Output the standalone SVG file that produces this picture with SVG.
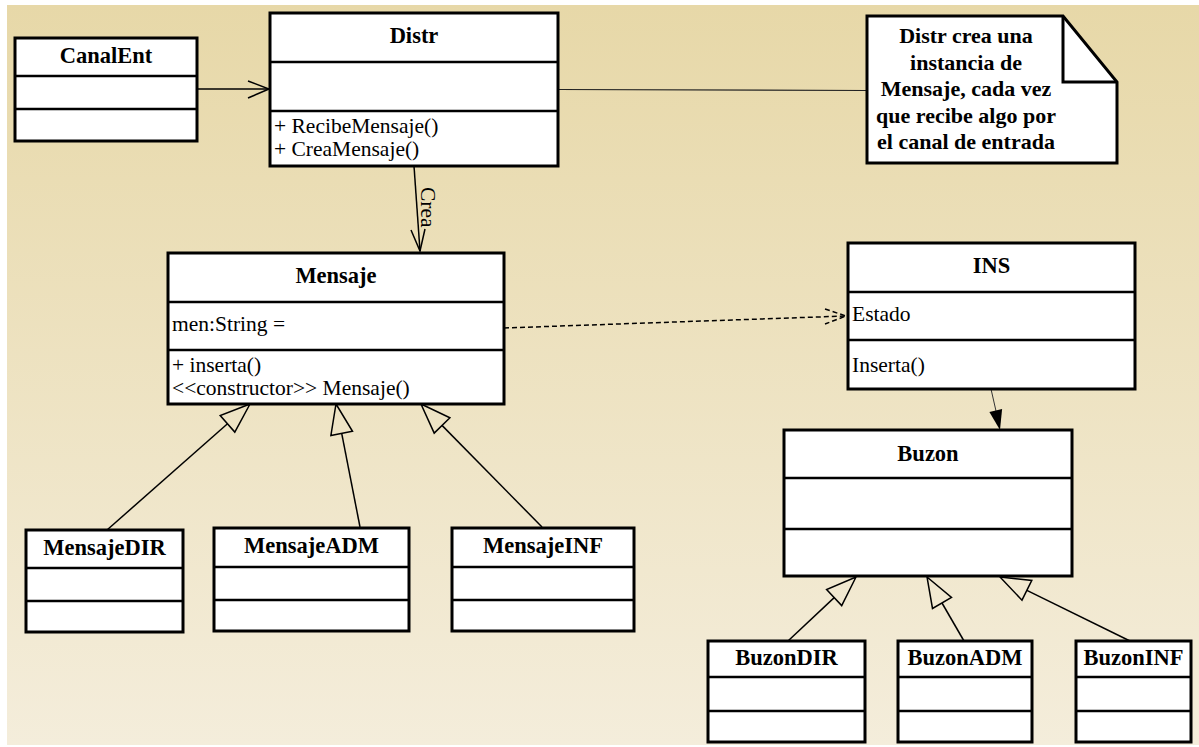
<svg xmlns="http://www.w3.org/2000/svg" width="1199" height="747" viewBox="0 0 1199 747">
<defs>
<linearGradient id="bg" x1="0" y1="0" x2="0" y2="1">
<stop offset="0" stop-color="#e7d8a8"/>
<stop offset="1" stop-color="#f4eddb"/>
</linearGradient>
</defs>
<style>
.box{fill:#fff;stroke:#000;stroke-width:3}
.div{stroke:#000;stroke-width:2.5}
.t{font-family:"Liberation Serif","Times New Roman",serif;font-weight:bold;font-size:22.5px;text-anchor:middle;fill:#000}
.a{font-family:"Liberation Serif","Times New Roman",serif;font-size:21.5px;fill:#000}
.n{font-family:"Liberation Serif","Times New Roman",serif;font-weight:bold;font-size:22px;text-anchor:middle;fill:#000}
.ln{stroke:#000;stroke-width:1.5;fill:none}
.dash{stroke:#000;stroke-width:1.5;fill:none;stroke-dasharray:5 3}
.gen{fill:none;stroke:#000;stroke-width:1.5;stroke-linejoin:miter}
</style>
<rect x="7" y="5" width="1192" height="740" fill="url(#bg)"/>

<g id="connectors">
<!-- CanalEnt -> Distr -->
<line class="ln" x1="197" y1="89" x2="269" y2="89"/>
<polyline class="ln" points="248,81 269,89 248,98"/>
<!-- Distr to note -->
<line x1="558" y1="89.5" x2="867" y2="90.5" stroke="#222" stroke-width="1.2"/>
<!-- Crea -->
<line class="ln" x1="414" y1="166" x2="420" y2="251"/>
<polyline class="ln" points="411,230 420,251 425,229"/>
<text class="a" transform="translate(421,187) rotate(90)">Crea</text>
<!-- Mensaje -> INS dependency -->
<line class="dash" x1="504" y1="328" x2="846" y2="316"/>
<polyline class="dash" points="825,309 846,316 825,324"/>
<!-- INS -> Buzon -->
<line x1="991" y1="389" x2="996" y2="411" stroke="#333" stroke-width="1"/>
<polygon points="1000,430 1002.1,409.1 989.4,411.9" fill="#000"/>
<!-- generalizations to Mensaje -->
<line class="ln" x1="107" y1="530" x2="227.5" y2="423.8"/>
<polygon class="gen" points="250,404 234.8,432.1 220.2,415.6"/>
<line class="ln" x1="360" y1="527" x2="341.7" y2="433.4"/>
<polygon class="gen" points="336,404 352.5,431.3 330.9,435.5"/>
<line class="ln" x1="542" y1="527" x2="442" y2="425.4"/>
<polygon class="gen" points="421,404 449.9,417.7 434.2,433.1"/>
<!-- generalizations to Buzon -->
<line class="ln" x1="788" y1="641" x2="834.2" y2="597.6"/>
<polygon class="gen" points="856,577 841.7,605.6 826.6,589.5"/>
<line class="ln" x1="964" y1="641" x2="942" y2="603"/>
<polygon class="gen" points="927,577 951.5,597.5 932.5,608.5"/>
<line class="ln" x1="1130" y1="641" x2="1026.9" y2="590.3"/>
<polygon class="gen" points="1000,577 1031.8,580.4 1022,600.2"/>
</g>

<g id="CanalEnt">
<rect class="box" x="15" y="38" width="182" height="103"/>
<line class="div" x1="15" y1="76" x2="197" y2="76"/>
<line class="div" x1="15" y1="109" x2="197" y2="109"/>
<text class="t" x="106" y="63">CanalEnt</text>
</g>

<g id="Distr">
<rect class="box" x="270" y="13" width="288" height="153"/>
<line class="div" x1="270" y1="62" x2="558" y2="62"/>
<line class="div" x1="270" y1="111" x2="558" y2="111"/>
<text class="t" x="414" y="43">Distr</text>
<text class="a" x="274" y="133">+ RecibeMensaje()</text>
<text class="a" x="274" y="156">+ CreaMensaje()</text>
</g>

<g id="Nota">
<path d="M867,16 L1063,16 L1117,82 L1117,163 L867,163 Z" fill="#fff" stroke="#000" stroke-width="3" stroke-linejoin="miter"/>
<polyline points="1063,16 1063,82 1117,82" fill="none" stroke="#000" stroke-width="3"/>
<text class="n" x="966" y="43">Distr crea una</text>
<text class="n" x="966" y="70">instancia de</text>
<text class="n" x="966" y="96">Mensaje, cada vez</text>
<text class="n" x="966" y="123">que recibe algo por</text>
<text class="n" x="966" y="149">el canal de entrada</text>
</g>

<g id="Mensaje">
<rect class="box" x="168" y="253" width="336" height="151"/>
<line class="div" x1="168" y1="302" x2="504" y2="302"/>
<line class="div" x1="168" y1="350" x2="504" y2="350"/>
<text class="t" x="336" y="283">Mensaje</text>
<text class="a" x="172" y="331">men:String =</text>
<text class="a" x="172" y="372">+ inserta()</text>
<text class="a" x="172" y="395">&lt;&lt;constructor&gt;&gt; Mensaje()</text>
</g>

<g id="INS">
<rect class="box" x="848" y="243" width="287" height="146"/>
<line class="div" x1="848" y1="292" x2="1135" y2="292"/>
<line class="div" x1="848" y1="340" x2="1135" y2="340"/>
<text class="t" x="991.5" y="273">INS</text>
<text class="a" x="852" y="321">Estado</text>
<text class="a" x="852" y="372">Inserta()</text>
</g>

<g id="Buzon">
<rect class="box" x="784" y="430" width="288" height="146"/>
<line class="div" x1="784" y1="478" x2="1072" y2="478"/>
<line class="div" x1="784" y1="529" x2="1072" y2="529"/>
<text class="t" x="928" y="461">Buzon</text>
</g>

<g id="MensajeDIR">
<rect class="box" x="26" y="530" width="157" height="102"/>
<line class="div" x1="26" y1="568" x2="183" y2="568"/>
<line class="div" x1="26" y1="601" x2="183" y2="601"/>
<text class="t" x="104.5" y="555">MensajeDIR</text>
</g>

<g id="MensajeADM">
<rect class="box" x="214" y="528" width="195" height="103"/>
<line class="div" x1="214" y1="567" x2="409" y2="567"/>
<line class="div" x1="214" y1="600" x2="409" y2="600"/>
<text class="t" x="311.5" y="553">MensajeADM</text>
</g>

<g id="MensajeINF">
<rect class="box" x="452" y="528" width="182" height="103"/>
<line class="div" x1="452" y1="567" x2="634" y2="567"/>
<line class="div" x1="452" y1="600" x2="634" y2="600"/>
<text class="t" x="543" y="553">MensajeINF</text>
</g>

<g id="BuzonDIR">
<rect class="box" x="708" y="641" width="157" height="101"/>
<line class="div" x1="708" y1="677" x2="865" y2="677"/>
<line class="div" x1="708" y1="711" x2="865" y2="711"/>
<text class="t" x="786.5" y="665">BuzonDIR</text>
</g>

<g id="BuzonADM">
<rect class="box" x="898" y="641" width="134" height="101"/>
<line class="div" x1="898" y1="677" x2="1032" y2="677"/>
<line class="div" x1="898" y1="711" x2="1032" y2="711"/>
<text class="t" x="965" y="665">BuzonADM</text>
</g>

<g id="BuzonINF">
<rect class="box" x="1076" y="641" width="115" height="101"/>
<line class="div" x1="1076" y1="677" x2="1191" y2="677"/>
<line class="div" x1="1076" y1="711" x2="1191" y2="711"/>
<text class="t" x="1133.5" y="665">BuzonINF</text>
</g>
</svg>
